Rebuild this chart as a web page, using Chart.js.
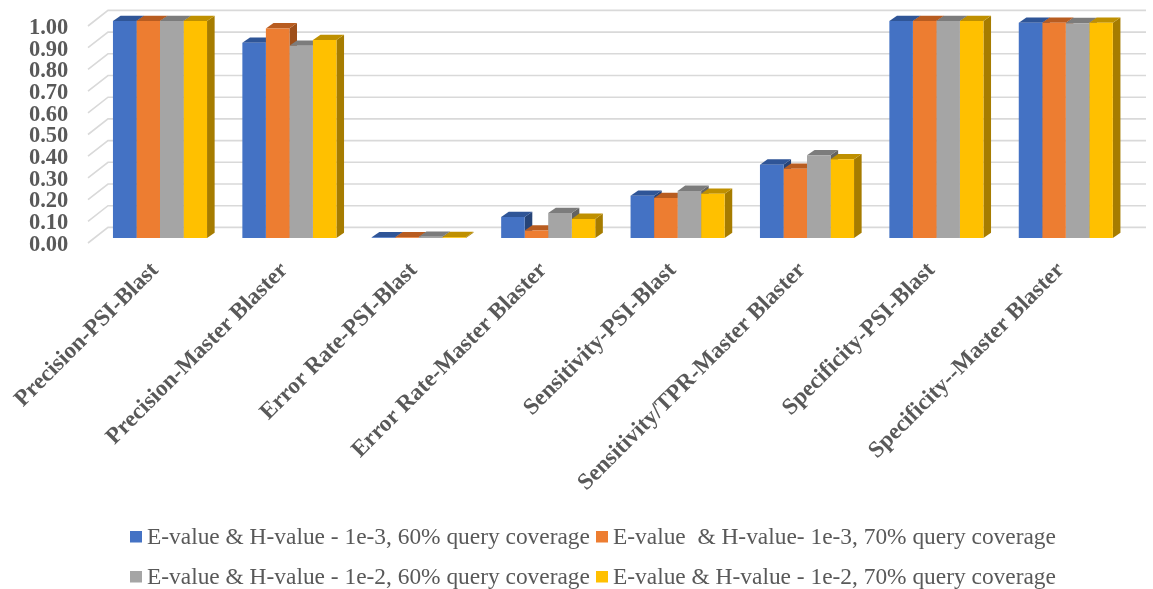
<!DOCTYPE html>
<html>
<head>
<meta charset="utf-8">
<style>
  html, body { margin: 0; background: #fff; }
  canvas { display: block; }
</style>
<script src="https://cdn.jsdelivr.net/npm/chart.js@4"></script>
</head>
<body>
<canvas id="chart" width="1153" height="589"></canvas>
<script>
const categories = [
  'Precision-PSI-Blast', 'Precision-Master Blaster', 'Error Rate-PSI-Blast', 'Error Rate-Master Blaster',
  'Sensitivity-PSI-Blast', 'Sensitivity/TPR-Master Blaster', 'Specificity-PSI-Blast', 'Specificity--Master Blaster'
];
const seriesNames = [
  'E-value & H-value - 1e-3, 60% query coverage',
  'E-value  & H-value- 1e-3, 70% query coverage',
  'E-value & H-value - 1e-2, 60% query coverage',
  'E-value & H-value - 1e-2, 70% query coverage'
];
const e3cov60 = [1.00, 0.90, 0.003, 0.097, 0.195, 0.338, 1.00, 0.992];
const e3cov70 = [1.00, 0.966, 0.003, 0.034, 0.184, 0.319, 1.00, 0.992];
const e2cov60 = [1.00, 0.886, 0.006, 0.115, 0.217, 0.381, 1.00, 0.990];
const e2cov70 = [1.00, 0.912, 0.004, 0.088, 0.204, 0.363, 1.00, 0.992];

const frontColors = ['#4472c4', '#ed7d31', '#a5a5a5', '#ffc000'];
const topColors = ['#2f5597', '#b85c20', '#7c7c7c', '#bf9000'];
const sideColors = ['#264478', '#9e4f1a', '#636363', '#a67c00'];

const textColor = '#595959';
const gridColor = '#d9d9d9';
const serif = '"Liberation Serif", serif';

// depth of the fake 3D box, in pixels
const barDepth = { x: 7.6, y: 5.3 };
const wall = { x: 12.7, y: 10.6, right: 1146 };
const floor = { x: -7.3, y: 5 };

function poly(ctx, color, pts) {
  ctx.fillStyle = color;
  ctx.beginPath();
  pts.forEach((p, i) => i ? ctx.lineTo(p[0], p[1]) : ctx.moveTo(p[0], p[1]));
  ctx.closePath();
  ctx.fill();
}

const box3d = {
  id: 'box3d',
  // back wall lines and the side and top faces go under the native bar fronts
  beforeDatasetsDraw(chart) {
    const { ctx, chartArea, scales: { y } } = chart;
    ctx.save();
    ctx.strokeStyle = gridColor;
    ctx.lineWidth = 1.6;
    y.ticks.forEach(t => {
      const py = y.getPixelForValue(t.value);
      ctx.beginPath();
      ctx.moveTo(chartArea.left + floor.x, py + floor.y);
      ctx.lineTo(chartArea.left + wall.x, py - wall.y);
      ctx.lineTo(wall.right, py - wall.y);
      ctx.stroke();
    });
    const dx = barDepth.x, dy = barDepth.y;
    categories.forEach((c, i) => {
      chart.data.datasets.forEach((ds, s) => {
        const bar = chart.getDatasetMeta(s).data[i];
        const l = bar.x - bar.width / 2, r = bar.x + bar.width / 2;
        const t = bar.y, b = bar.base;
        poly(ctx, sideColors[s], [[r, t], [r + dx, t - dy], [r + dx, b - dy], [r, b]]);
        poly(ctx, topColors[s], [[l, t], [l + dx, t - dy], [r + dx, t - dy], [r, t]]);
      });
    });
    ctx.restore();
  },
  // two rows with tight columns, which the built-in legend spacing can't do
  afterDraw(chart) {
    const { ctx } = chart;
    const cols = [{ box: 130, text: 147 }, { box: 596, text: 613 }];
    const rows = [{ box: 531, text: 544 }, { box: 571, text: 584 }];
    ctx.save();
    ctx.font = '23.4px ' + serif;
    ctx.textBaseline = 'alphabetic';
    ctx.textAlign = 'left';
    chart.data.datasets.forEach((ds, s) => {
      const col = cols[s % 2], row = rows[Math.floor(s / 2)];
      ctx.fillStyle = ds.backgroundColor;
      ctx.fillRect(col.box, row.box, 12, 11.5);
      ctx.fillStyle = textColor;
      ctx.fillText(ds.label, col.text, row.text);
    });
    ctx.restore();
  }
};

const seriesValues = [e3cov60, e3cov70, e2cov60, e2cov70];

new Chart(document.getElementById('chart'), {
  type: 'bar',
  data: {
    labels: categories,
    datasets: seriesValues.map((values, s) => ({
      label: seriesNames[s],
      data: values,
      backgroundColor: frontColors[s],
      categoryPercentage: 0.727,
      barPercentage: 1
    }))
  },
  options: {
    responsive: false,
    animation: false,
    layout: { padding: { top: 21, right: 22.5, left: 0, bottom: 0 } },
    plugins: { legend: { display: false }, tooltip: { enabled: false } },
    scales: {
      x: {
        // long rotated labels must not squeeze the plot sideways
        afterFit(scale) {
          scale.height = 351;
          scale.paddingLeft = 0;
          scale.paddingRight = 0;
        },
        grid: { display: false, drawTicks: false },
        border: { display: false },
        ticks: {
          color: textColor,
          font: { family: serif, size: 23.2, weight: 'bold' },
          minRotation: 45,
          maxRotation: 45,
          autoSkip: false,
          padding: 19,
          labelOffset: -5
        }
      },
      y: {
        min: 0,
        max: 1,
        // the tick padding would otherwise push the plot down from the top edge
        afterFit(scale) {
          scale.width = 95.3;
          scale.paddingTop = 0;
          scale.paddingBottom = 0;
        },
        grid: { display: false, drawTicks: false },
        border: { display: false },
        ticks: {
          stepSize: 0.1,
          autoSkip: false,
          color: textColor,
          font: { family: serif, size: 22.5, weight: 'bold' },
          padding: 27,
          labelOffset: 7,
          callback: v => v.toFixed(2)
        }
      }
    }
  },
  plugins: [box3d]
});
</script>
</body>
</html>
